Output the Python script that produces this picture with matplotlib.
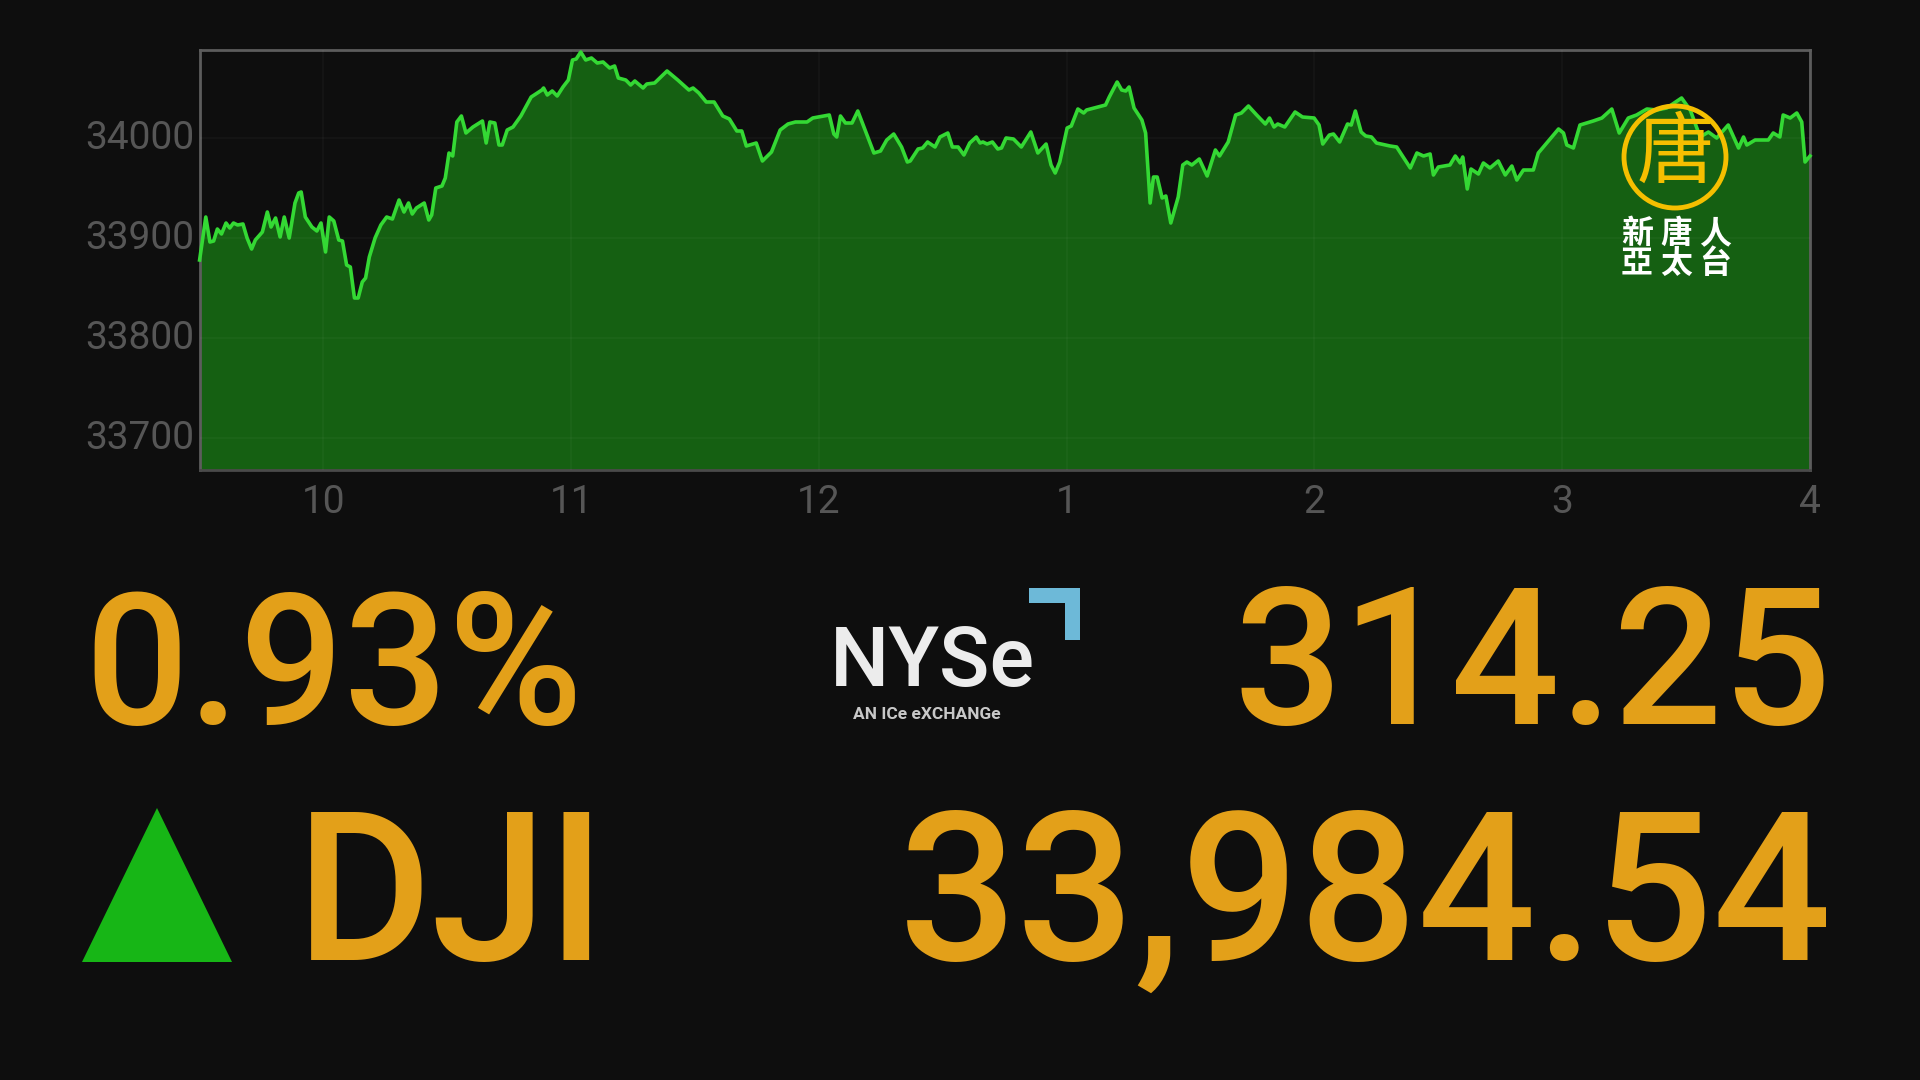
import matplotlib
matplotlib.use("Agg")
import matplotlib.pyplot as plt
from matplotlib.patches import Polygon, Rectangle
from matplotlib.transforms import ScaledTranslation

# minutes after the 9:30 open
minutes = [
    0, 1.5, 2.5, 3.4, 4.3, 5.3, 6.4, 7.3, 8.2, 9.2, 10.5, 11.5, 12.6, 13.5, 15.2, 16.4, 17.3, 18.4, 19.5, 20.5,
    21.7, 23.1, 24.0, 24.6, 25.6, 27.2, 28.4, 29.4, 30.5, 31.4, 32.5, 33.7, 34.6, 35.6, 36.5, 37.5, 38.4, 39.4, 40.2, 41.1,
    42.5, 43.9, 45.3, 46.7, 48.3, 49.5, 50.6, 51.5, 52.5, 54.4, 55.5, 56.2, 57.2, 58.7, 59.5, 60.4, 61.3, 62.3, 63.4, 64.5,
    66.2, 68.5, 69.4, 70.3, 71.5, 72.5, 73.3, 74.5, 75.9, 77.8, 80.3, 82.9, 83.3, 84.2, 85.4, 86.6, 88.0, 89.3, 90.3, 91.2,
    92.3, 93.5, 94.9, 96.3, 97.7, 99.3, 100.5, 101.4, 103.2, 104.4, 105.4, 107.4, 108.3, 110.2, 113.2, 115.8, 118.5, 119.5, 120.9, 122.7,
    124.6, 126.7, 128.3, 130.1, 131.3, 132.4, 134.8, 136.3, 138.5, 140.6, 142.5, 144.3, 147.1, 148.5, 152.5, 153.6, 154.3, 155.2, 156.4, 158.0,
    159.4, 163.3, 164.9, 166.4, 168.1, 170.0, 171.4, 172.1, 174.0, 175.1, 176.3, 178.1, 179.3, 181.2, 182.3, 183.7, 185.1, 186.5, 188.1, 189.0,
    189.7, 190.7, 192.0, 193.3, 194.2, 195.3, 197.1, 199.0, 201.3, 203.0, 205.0, 206.2, 207.2, 208.3, 210.1, 211.1, 212.7, 214.1, 214.8, 219.4,
    220.3, 222.2, 223.3, 224.3, 225.1, 226.3, 228.2, 229.1, 230.2, 231.0, 231.9, 233.1, 234.0, 235.2, 237.0, 238.1, 239.1, 240.3, 242.1, 244.0,
    246.0, 247.0, 249.1, 250.9, 252.3, 254.0, 256.0, 258.1, 259.1, 260.2, 261.1, 262.8, 265.3, 267.1, 269.9, 271.1, 272.0, 273.6, 274.6, 276.1,
    278.0, 278.9, 279.9, 281.3, 282.4, 283.8, 285.0, 288.3, 289.9, 293.2, 294.8, 296.4, 298.0, 298.8, 300.0, 302.8, 304.1, 305.3, 305.9, 307.0,
    307.9, 309.7, 310.9, 312.5, 314.5, 316.2, 317.8, 319.0, 320.6, 323.0, 324.2, 329.1, 330.3, 331.1, 332.7, 334.3, 337.5, 339.6, 342.0, 343.8,
    346.0, 348.0, 350.5, 352.9, 355.3, 358.9, 361.0, 363.4, 365.4, 367.4, 370.2, 372.7, 373.9, 374.7, 376.7, 379.9, 381.1, 382.7, 383.5, 385.2,
    386.8, 388.0, 388.8, 390.0,
]
index_values = [
    33878, 33921, 33896, 33897, 33909, 33904, 33915, 33910, 33915, 33913, 33914, 33900, 33889, 33898, 33906, 33926, 33911, 33920, 33901, 33921,
    33900, 33935, 33945, 33946, 33921, 33911, 33907, 33915, 33886, 33921, 33917, 33898, 33897, 33873, 33871, 33840, 33840, 33856, 33860, 33881,
    33900, 33913, 33921, 33919, 33938, 33926, 33935, 33924, 33930, 33935, 33918, 33923, 33950, 33952, 33960, 33985, 33982, 34016, 34022, 34005,
    34011, 34017, 33995, 34016, 34015, 33993, 33993, 34008, 34011, 34022, 34041, 34048, 34050, 34043, 34047, 34042, 34051, 34058, 34078, 34079,
    34086, 34078, 34080, 34075, 34076, 34070, 34072, 34060, 34058, 34053, 34057, 34050, 34054, 34055, 34067, 34058, 34048, 34050, 34045, 34036,
    34036, 34022, 34019, 34007, 34007, 33992, 33995, 33977, 33986, 34008, 34014, 34016, 34016, 34020, 34023, 34004, 34001, 34022, 34015, 34015,
    34027, 33985, 33987, 33998, 34004, 33991, 33976, 33977, 33989, 33990, 33996, 33991, 34001, 34005, 33991, 33991, 33983, 33995, 34001, 33995,
    33996, 33994, 33996, 33989, 33990, 34000, 33999, 33991, 34006, 33985, 33994, 33973, 33965, 33976, 34010, 34012, 34029, 34025, 34028, 34033,
    34041, 34056, 34048, 34047, 34051, 34030, 34018, 34005, 33935, 33961, 33961, 33940, 33942, 33915, 33941, 33973, 33976, 33973, 33979, 33962,
    33988, 33982, 33996, 34023, 34025, 34032, 34023, 34014, 34020, 34011, 34014, 34011, 34026, 34021, 34020, 34013, 33994, 34003, 34004, 33996,
    34014, 34013, 34027, 34006, 34002, 34001, 33995, 33992, 33991, 33970, 33985, 33982, 33984, 33963, 33971, 33973, 33982, 33975, 33981, 33949,
    33969, 33964, 33975, 33970, 33977, 33963, 33972, 33958, 33968, 33968, 33985, 34009, 34005, 33993, 33990, 34013, 34017, 34020, 34029, 34005,
    34020, 34023, 34029, 34028, 34030, 34040, 34028, 34001, 34006, 34000, 34013, 33990, 34001, 33993, 33998, 33998, 34005, 34001, 34023, 34020,
    34025, 34016, 33976, 33982,
]
y_ticks = [33700, 33800, 33900, 34000]
x_ticks = [30, 90, 150, 210, 270, 330, 390]
x_labels = ["10", "11", "12", "1", "2", "3", "4"]

pct_text = "0.93%"
change_text = "314.25"
index_name = "DJI"
close_text = "33,984.54"
logo_line1 = "新唐人"
logo_line2 = "亞太台"

BG = "#0e0e0e"
FILL = "#156012"
LINE = "#34d934"
ORANGE = "#e3a019"
TICK = "#565656"
CJK = ['Noto Sans CJK TC', 'DejaVu Sans']
W, H = 1920, 1080


def fx(px):
    return px / W


def fy(py):
    return 1 - py / H


##########################################
plt.rcParams['font.family'] = ['Roboto', 'DejaVu Sans']
fig = plt.figure(figsize=(19.2, 10.8), dpi=100, facecolor=BG)

ax = fig.add_axes([fx(199.6), fy(470), (1810 - 199.6) / W, (470 - 50) / H], facecolor=BG)
ax.fill_between(minutes, index_values, 33600, color=FILL, lw=0, zorder=2)
ax.plot(minutes, index_values, color=LINE, lw=2.6, zorder=3, clip_on=False)
ax.set_xlim(0, 390)
ax.set_ylim(33668, 34088)

# very faint grid that shows through the fill
ax.set_yticks(y_ticks)
ax.set_xticks(x_ticks)
ax.set_xticklabels(x_labels)
ax.grid(True, color="white", alpha=0.03, lw=1.2, zorder=4)
ax.set_axisbelow(False)
ax.tick_params(axis='both', length=0, labelcolor=TICK, labelsize=28)
ax.tick_params(axis='x', pad=10)
ax.tick_params(axis='y', pad=4)
# the label transform carries a downward offset once re-set, pull it back up a bit
nudge = ScaledTranslation(0, 2.4 / 72, fig.dpi_scale_trans)
for label in ax.get_yticklabels():
    label.set_transform(label.get_transform() + nudge)
for s in ax.spines.values():
    s.set_color("#5c5c5c")
    s.set_linewidth(2)
ax.spines['bottom'].set_color("#4a4a4a")

# big readouts
fig.text(fx(84), fy(724), pct_text, color=ORANGE, fontsize=132, ha='left', va='baseline', fontweight='medium')
fig.text(fx(1832), fy(724), change_text, color=ORANGE, fontsize=138, ha='right', va='baseline', fontweight='medium')
fig.text(fx(296), fy(960), index_name, color=ORANGE, fontsize=150, ha='left', va='baseline', fontweight='medium')
fig.text(fx(1832), fy(960), close_text, color=ORANGE, fontsize=150, ha='right', va='baseline', fontweight='medium')

# up arrow
fig.add_artist(Polygon([(fx(82), fy(962)), (fx(157), fy(808)), (fx(232), fy(962))],
                       closed=True, color="#17b616", lw=0, transform=fig.transFigure))

# exchange logo
fig.text(fx(830), fy(686), "NYSe", color="#ececec", fontsize=60, ha='left', va='baseline', fontweight='medium')
fig.text(fx(853), fy(719), "AN ICe eXCHANGe", color="#c8c8c8", fontsize=12.5, ha='left', va='baseline', fontweight='bold')
fig.add_artist(Rectangle((fx(1029), fy(603)), 51 / W, 15 / H, color="#6db9d8", lw=0, transform=fig.transFigure))
fig.add_artist(Rectangle((fx(1065), fy(640)), 15 / W, 52 / H, color="#6db9d8", lw=0, transform=fig.transFigure))

# station logo
cx, cy, r = 1675, 157, 51
fig.add_artist(plt.Circle((cx, H - cy), r, fill=False, ec="#f5bf00", lw=3.5, transform=None))
fig.text(fx(cx), fy(cy - 2), "唐", color="#f5bf00", fontsize=56, ha='center', va='center',
         fontweight='medium', family=CJK)
for i in range(3):
    fig.text(fx(1637 + i * 39), fy(234), logo_line1[i], color="white", fontsize=23, ha='center', va='center',
             fontweight='bold', family=CJK)
    fig.text(fx(1637 + i * 39), fy(264), logo_line2[i], color="white", fontsize=23, ha='center', va='center',
             fontweight='bold', family=CJK)

fig.savefig("out.png", dpi=100, facecolor=BG)
